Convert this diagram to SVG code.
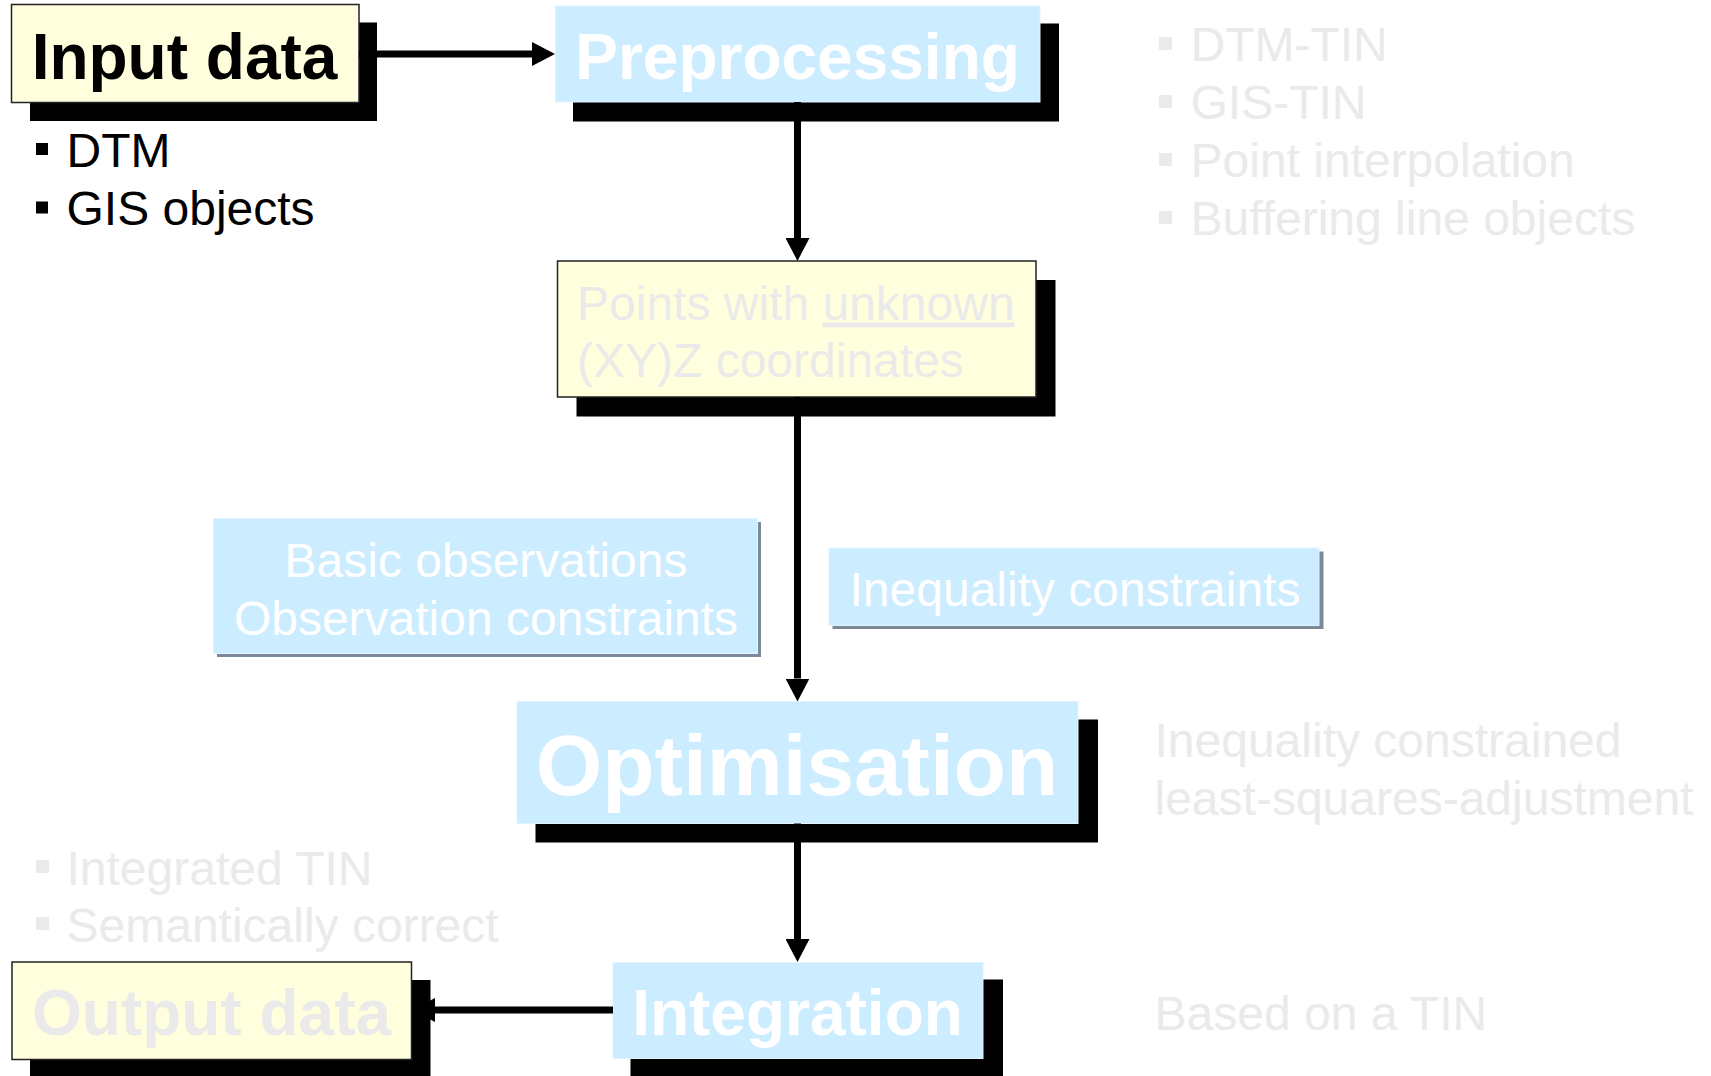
<svg xmlns="http://www.w3.org/2000/svg" width="1711" height="1076" viewBox="0 0 1711 1076">
<style>
.shadow{fill:#000000}
.yel{fill:#FFFFDD;stroke:#222222;stroke-width:1.5}
.blue{fill:#CCECFF;stroke:#E2F4FF;stroke-width:1}
.slate{fill:#7A8A99}
.title{font-family:"Liberation Sans",Arial,Helvetica,sans-serif;font-weight:bold;font-size:64px}
.txt{font-family:"Liberation Sans",Arial,Helvetica,sans-serif;font-size:48px}
.black{fill:#000000}
.white{fill:#FFFFFF}
.gray{fill:#EAEAEA}
.conn{stroke:#000000;stroke-width:7;fill:none}
</style>
<defs>
<marker id="ah" markerUnits="userSpaceOnUse" markerWidth="24" markerHeight="24" refX="0" refY="12" orient="auto">
<path d="M0,0 L23,12 L0,24 Z" fill="#000000"/>
</marker>
</defs>
<rect width="1711" height="1076" fill="#FFFFFF"/>

<g id="input-data">
<rect class="shadow" x="30" y="22.5" width="347" height="98.5"/>
<rect class="yel" x="11.5" y="4.5" width="347.5" height="98"/>
<text class="title black" x="184.5" y="78.5" text-anchor="middle">Input data</text>
<rect class="black" x="36" y="143" width="12" height="12"/>
<text class="txt black" x="66.5" y="166.5">DTM</text>
<rect class="black" x="36" y="201.5" width="12" height="12"/>
<text class="txt black" x="66.5" y="225">GIS objects</text>
</g>

<g id="preprocessing">
<rect class="shadow" x="573" y="23.5" width="486" height="98"/>
<rect class="blue" x="555.5" y="6" width="484.5" height="96"/>
<text class="title white" x="797.5" y="78.5" text-anchor="middle">Preprocessing</text>
</g>

<g id="preprocessing-notes">
<rect class="gray" x="1159" y="37" width="13" height="13"/>
<text class="txt gray" x="1190.5" y="61">DTM-TIN</text>
<rect class="gray" x="1159" y="95" width="13" height="13"/>
<text class="txt gray" x="1190.5" y="119">GIS-TIN</text>
<rect class="gray" x="1159" y="153" width="13" height="13"/>
<text class="txt gray" x="1190.5" y="177">Point interpolation</text>
<rect class="gray" x="1159" y="211" width="13" height="13"/>
<text class="txt gray" x="1190.5" y="235">Buffering line objects</text>
</g>

<g id="points">
<rect class="shadow" x="576.5" y="280" width="479" height="136.5"/>
<rect class="yel" x="557.5" y="261" width="478.5" height="136"/>
<text class="txt gray" x="577" y="319.5">Points with <tspan text-decoration="underline">unknown</tspan></text>
<text class="txt gray" x="577" y="377">(XY)Z coordinates</text>
</g>

<g id="basic-observations">
<rect class="slate" x="217" y="522" width="544" height="135"/>
<rect class="blue" x="213.5" y="518.5" width="544" height="135"/>
<text class="txt white" x="486" y="577" text-anchor="middle">Basic observations</text>
<text class="txt white" x="486" y="635" text-anchor="middle">Observation constraints</text>
</g>

<g id="inequality-constraints">
<rect class="slate" x="832.5" y="551.5" width="491" height="77.5"/>
<rect class="blue" x="829" y="548" width="490" height="77.5"/>
<text class="txt white" x="1075" y="605.5" text-anchor="middle">Inequality constraints</text>
</g>

<g id="optimisation">
<rect class="shadow" x="535.5" y="719.5" width="562.5" height="123"/>
<rect class="blue" x="517" y="701.5" width="561" height="122"/>
<text class="title white" style="font-size:85.5px" x="797" y="795" text-anchor="middle">Optimisation</text>
</g>

<g id="optimisation-notes">
<text class="txt gray" x="1154.5" y="757">Inequality constrained</text>
<text class="txt gray" x="1154.5" y="815">least-squares-adjustment</text>
</g>

<g id="integration">
<rect class="shadow" x="630.5" y="979.5" width="372.5" height="97"/>
<rect class="blue" x="613" y="962.5" width="370" height="96"/>
<text class="title white" x="797.5" y="1034.5" text-anchor="middle">Integration</text>
</g>

<g id="integration-notes">
<text class="txt gray" x="1154.5" y="1029.5">Based on a TIN</text>
</g>

<g id="output-notes">
<rect class="gray" x="36" y="860" width="13" height="13"/>
<text class="txt gray" x="66.5" y="885">Integrated TIN</text>
<rect class="gray" x="36" y="917" width="13" height="13"/>
<text class="txt gray" x="66.5" y="941.5">Semantically correct</text>
</g>

<g id="output-data">
<rect class="shadow" x="30" y="980" width="400.5" height="98"/>
<rect class="yel" x="12" y="962" width="399.5" height="97.5"/>
<text class="title gray" x="211.5" y="1034.5" text-anchor="middle">Output data</text>
</g>

<g id="connectors">
<line class="conn" x1="359" y1="54" x2="532" y2="54" marker-end="url(#ah)"/>
<line class="conn" x1="797.5" y1="102" x2="797.5" y2="238" marker-end="url(#ah)"/>
<line class="conn" x1="797.5" y1="397" x2="797.5" y2="678.5" marker-end="url(#ah)"/>
<line class="conn" x1="797.5" y1="823.5" x2="797.5" y2="939" marker-end="url(#ah)"/>
<line class="conn" x1="613" y1="1010" x2="435" y2="1010" marker-end="url(#ah)"/>
</g>
</svg>
